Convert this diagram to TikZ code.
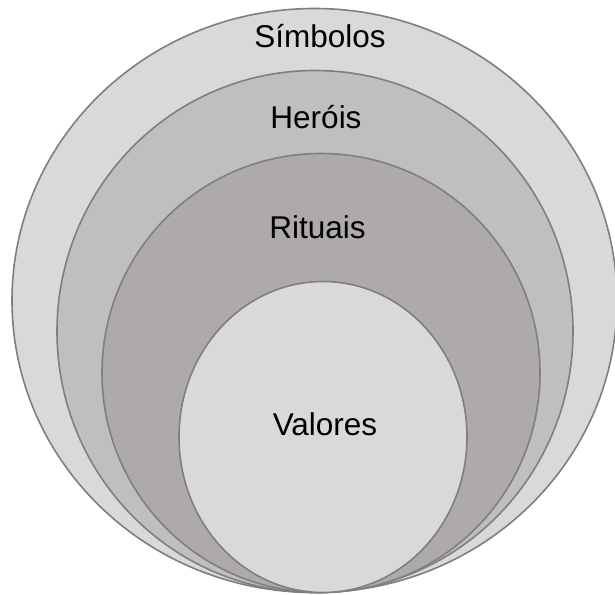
\documentclass[tikz,border=0pt]{standalone}
\usepackage{fontspec}
\setmainfont{Liberation Sans}
\definecolor{ringline}{HTML}{7F7F7F}
\definecolor{fillA}{HTML}{D9D9D9}
\definecolor{fillB}{HTML}{BFBFBF}
\definecolor{fillC}{HTML}{AEAAAA}
\definecolor{fillD}{HTML}{D9D9D9}
\begin{document}
\begin{tikzpicture}[x=1pt,y=-1pt,
  ring/.style={draw=ringline,line width=1.6pt},
  lbl/.style={anchor=base,inner sep=0pt,font=\fontsize{31.5}{38}\selectfont,text=black}]
\useasboundingbox (0,0) rectangle (615,594);
\fill[white] (0,0) rectangle (615,594);
\draw[ring,fill=fillA] (314.5,300.5) ellipse [x radius=302.5, y radius=292];
\draw[ring,fill=fillB] (315,331.5) ellipse [x radius=258, y radius=261];
\draw[ring,fill=fillC] (321,373) ellipse [x radius=219, y radius=219.5];
\draw[ring,fill=fillD] (323,437) ellipse [x radius=144, y radius=155.5];
\node[lbl] (simbolos) at (320,48) {Símbolos};
\node[lbl] (herois) at (316,128) {Heróis};
\node[lbl] (rituais) at (317.5,238) {Rituais};
\node[lbl] (valores) at (325,435) {Valores};
\end{tikzpicture}
\end{document}
